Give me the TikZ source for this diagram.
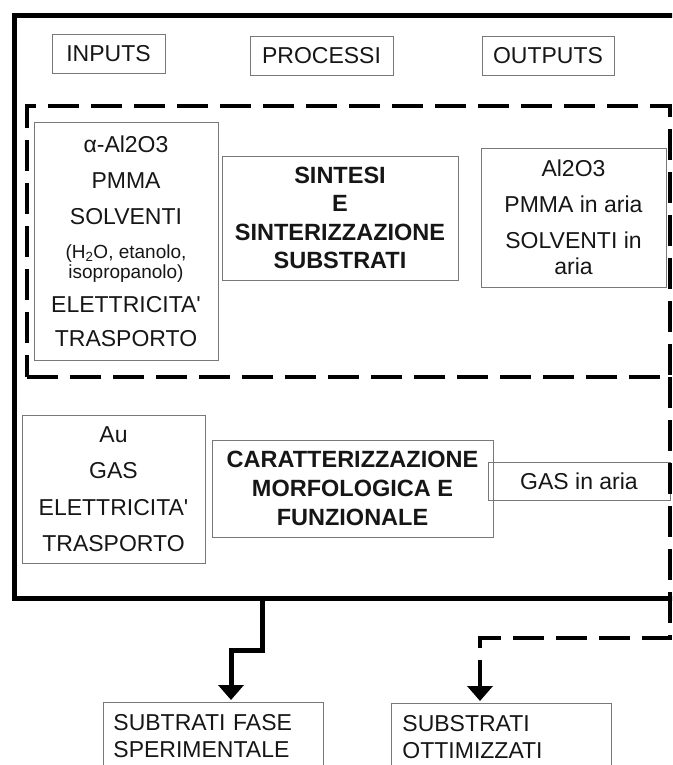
\documentclass[tikz,border=0pt]{standalone}
\usepackage{fontspec}
\setmainfont{Liberation Sans}
\usetikzlibrary{arrows.meta,positioning,calc}
\definecolor{boxgrey}{RGB}{120,120,120}
\definecolor{inkblack}{RGB}{22,22,22}
\tikzset{
  headbox/.style={rectangle, draw=boxgrey, line width=0.9pt, inner sep=0pt,
                  text=inkblack, font=\fontsize{23}{26}\selectfont},
  itembox/.style={headbox, align=center, font=\fontsize{23}{36}\selectfont},
  procbox/.style={headbox, align=center, font=\bfseries\fontsize{23.5}{28.5}\selectfont},
  resultbox/.style={headbox, anchor=north west, align=left, inner xsep=10pt,
                    inner ysep=12pt, font=\fontsize{23}{27}\selectfont},
  frameline/.style={draw=black, line width=5pt},
  dashframe/.style={draw=black, line width=4pt, dash pattern=on 31pt off 12pt,
                    inner sep=0pt, outer sep=0pt},
  flowline/.style={draw=black, line width=5pt, shorten >=2pt,
                   -{Triangle[length=15pt,width=25pt]}},
  flowdash/.style={flowline, line width=4.5pt, dash pattern=on 31pt off 12pt},
}
\newcommand{\smalltext}[1]{{\fontsize{19}{20}\selectfont #1}}

\begin{document}
\begin{tikzpicture}[x=1pt,y=-1pt]
  \useasboundingbox (0,0) rectangle (672,765);
  \clip (0,0) rectangle (672,765);

  % ---- outer frame: whole system -----------------------------------------
  \draw[frameline] (14,16) rectangle (684,598);
  \coordinate (frameS) at (262,598);

  % ---- column headings ----------------------------------------------------
  \node[headbox, minimum width=113pt, minimum height=39pt] (inputs)   at (108.5,53.5) {INPUTS};
  \node[headbox, minimum width=143pt, minimum height=39pt] (processi) at (321.5,55.5) {PROCESSI};
  \node[headbox, minimum width=132pt, minimum height=39pt] (outputs)  at (548,55.5)   {OUTPUTS};

  % ---- dashed frame: synthesis step ---------------------------------------
  \node[dashframe, minimum width=643pt, minimum height=271pt] (synthframe) at (348.5,241.5) {};

  \node[itembox, minimum width=184pt, minimum height=238pt] (synthin) at (126,241)
    {α-Al2O3\\ PMMA\\ SOLVENTI\\[-2pt]
     \smalltext{(H\textsubscript{2}O, etanolo,}\\[-16pt]
     \smalltext{isopropanolo)}\\[-2pt]
     ELETTRICITA\textquotesingle\\[-2pt] TRASPORTO};
  \node[procbox, minimum width=236pt, minimum height=124pt] (synth) at (340,218)
    {SINTESI\\ E\\ SINTERIZZAZIONE\\ SUBSTRATI};
  \node[itembox, minimum width=185pt, minimum height=139pt] (synthout) at (573.5,217.5)
    {Al2O3\\ PMMA in aria\\ SOLVENTI in\\[-10pt] aria};

  % ---- characterisation step ----------------------------------------------
  \node[itembox, minimum width=183pt, minimum height=148pt,
        font=\fontsize{23}{36.5}\selectfont] (charin) at (113.5,489)
    {Au\\ GAS\\ ELETTRICITA\textquotesingle\\ TRASPORTO};
  \node[procbox, minimum width=281pt, minimum height=97pt,
        font=\bfseries\fontsize{23.5}{29}\selectfont] (charact) at (352.5,488.5)
    {CARATTERIZZAZIONE\\ MORFOLOGICA E\\ FUNZIONALE};
  \node[headbox, minimum width=182pt, minimum height=38pt] (charout) at (579,481) {GAS in aria};

  % ---- results ------------------------------------------------------------
  \node[resultbox, text width=200pt] (subexp) at (103,702)
    {SUBTRATI FASE\\ SPERIMENTALE};
  \node[resultbox, text width=198pt, inner xsep=11pt] (subopt) at (391,703)
    {SUBSTRATI\\ OTTIMIZZATI};

  % ---- connectors ---------------------------------------------------------
  \coordinate (bendA) at (231,650);
  \coordinate (bendB) at (480,638);
  \draw[flowline] (frameS) |- (bendA) -- (bendA |- subexp.north);
  \draw[flowdash] (synthframe.south east) |- (bendB) -- (bendB |- subopt.north);
\end{tikzpicture}
\end{document}
